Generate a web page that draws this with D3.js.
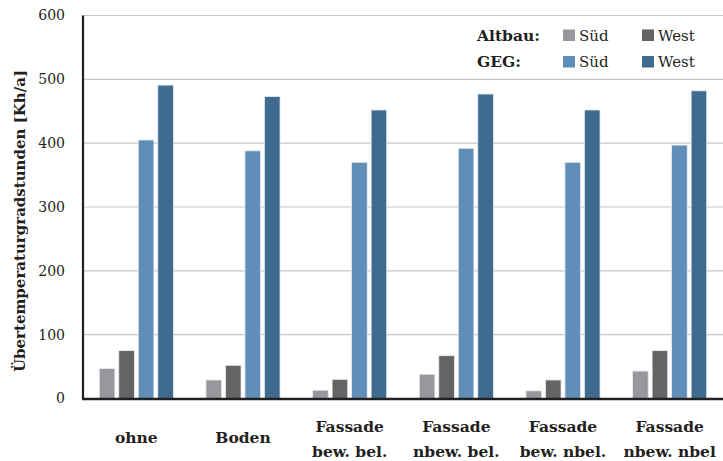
<!DOCTYPE html>
<html>
<head>
<meta charset="utf-8">
<script src="https://cdn.jsdelivr.net/npm/d3@7"></script>
<style>
  html, body { margin: 0; padding: 0; background: #ffffff; }
  svg { display: block; }
  text { font-family: "DejaVu Serif", "Liberation Serif", serif; fill: #231f20; }
</style>
</head>
<body>
<svg id="chart" width="723" height="461"></svg>
<script>
// ---- data ----
const categories = [
  ["ohne"],
  ["Boden"],
  ["Fassade", "bew. bel."],
  ["Fassade", "nbew. bel."],
  ["Fassade", "bew. nbel."],
  ["Fassade", "nbew. nbel"]
];
const seriesNames = ["Altbau Süd", "Altbau West", "GEG Süd", "GEG West"];
const altbauSued = [47, 29, 13, 38, 12, 43];
const altbauWest = [75, 52, 30, 67, 29, 75];
const gegSued    = [405, 388, 370, 392, 370, 397];
const gegWest    = [491, 473, 452, 477, 452, 482];
const yTicks = [0, 100, 200, 300, 400, 500, 600];
const colors = ["#97989c", "#646466", "#5f8fb9", "#406b91"];

const series = [altbauSued, altbauWest, gegSued, gegWest];

// ---- layout ----
const svg = d3.select("#chart");
const margin = { left: 83, right: 0, top: 15.5, bottom: 62.5 };
const W = 723, H = 461;
const plotW = W - margin.left - margin.right;
const plotH = H - margin.top - margin.bottom;

const x0 = d3.scaleBand().domain(d3.range(categories.length)).range([margin.left, margin.left + plotW]).paddingInner(0).paddingOuter(0);
const x1 = d3.scaleBand().domain(d3.range(series.length)).range([0, 78]).paddingInner(0.2).paddingOuter(0.1);
const groupOffset = (x0.bandwidth() - 78) / 2;
const y = d3.scaleLinear().domain([0, 600]).range([margin.top + plotH, margin.top]);

// gridlines
svg.append("g")
  .selectAll("line")
  .data(yTicks.filter(d => d > 0))
  .join("line")
  .attr("x1", margin.left).attr("x2", W)
  .attr("y1", d => y(d)).attr("y2", d => y(d))
  .attr("stroke", "#c6c6c6").attr("stroke-width", 1.2);

// y tick labels
const yAxis = d3.axisLeft(y).tickValues(yTicks).tickSize(0).tickPadding(18);
const gy = svg.append("g").attr("transform", `translate(${margin.left},0)`).call(yAxis);
gy.attr("font-family", null);
gy.select(".domain").remove();
gy.selectAll("text")
  .style("font-family", '"DejaVu Serif", serif')
  .style("font-size", "14px")
  .attr("fill", "#231f20");

// bars
const groups = svg.append("g").selectAll("g")
  .data(categories.map((c, i) => i))
  .join("g")
  .attr("transform", i => `translate(${x0(i) + groupOffset},0)`);

groups.selectAll("rect")
  .data(i => series.map((s, k) => ({ k, v: s[i] })))
  .join("rect")
  .attr("x", d => x1(d.k))
  .attr("width", x1.bandwidth())
  .attr("y", d => y(d.v))
  .attr("height", d => y(0) - y(d.v))
  .attr("fill", d => colors[d.k])
  .attr("stroke", "#e6ebf0")
  .attr("stroke-width", 0.8);

// axes lines
svg.append("line")
  .attr("x1", margin.left).attr("x2", margin.left)
  .attr("y1", y(600)).attr("y2", y(0) + 1)
  .attr("stroke", "#231f20").attr("stroke-width", 2.2);
svg.append("line")
  .attr("x1", margin.left - 1).attr("x2", W)
  .attr("y1", y(0) + 0.5).attr("y2", y(0) + 0.5)
  .attr("stroke", "#231f20").attr("stroke-width", 2.4);

// x labels
const xl = svg.append("g").selectAll("text")
  .data(categories)
  .join("text")
  .attr("text-anchor", "middle")
  .style("font-size", "15.5px")
  .style("font-weight", "bold")
  .attr("transform", (c, i) => `translate(${x0(i) + x0.bandwidth() / 2},${c.length === 1 ? 443 : 432})`);
xl.selectAll("tspan")
  .data(c => c)
  .join("tspan")
  .attr("x", 0)
  .attr("dy", (d, j) => j === 0 ? 0 : 25)
  .text(d => d);

// y title
svg.append("text")
  .attr("transform", `translate(25,${221}) rotate(-90)`)
  .attr("text-anchor", "middle")
  .style("font-size", "15px")
  .style("font-weight", "bold")
  .text("Übertemperaturgradstunden [Kh/a]");

// legend
const legendRows = [
  { label: "Altbau:", items: [{ name: "Süd", c: colors[0] }, { name: "West", c: colors[1] }] },
  { label: "GEG:", items: [{ name: "Süd", c: colors[2] }, { name: "West", c: colors[3] }] }
];
const lg = svg.append("g");
legendRows.forEach((row, r) => {
  const by = 40.5 + r * 26.5;
  lg.append("text").attr("x", 477).attr("y", by)
    .style("font-size", "15.5px").style("font-weight", "bold").text(row.label);
  row.items.forEach((it, k) => {
    const sx = 563 + k * 79;
    lg.append("rect").attr("x", sx).attr("y", by - 11).attr("width", 12).attr("height", 11.5).attr("fill", it.c);
    lg.append("text").attr("x", sx + 16).attr("y", by).style("font-size", "15px").text(it.name);
  });
});
</script>
</body>
</html>
